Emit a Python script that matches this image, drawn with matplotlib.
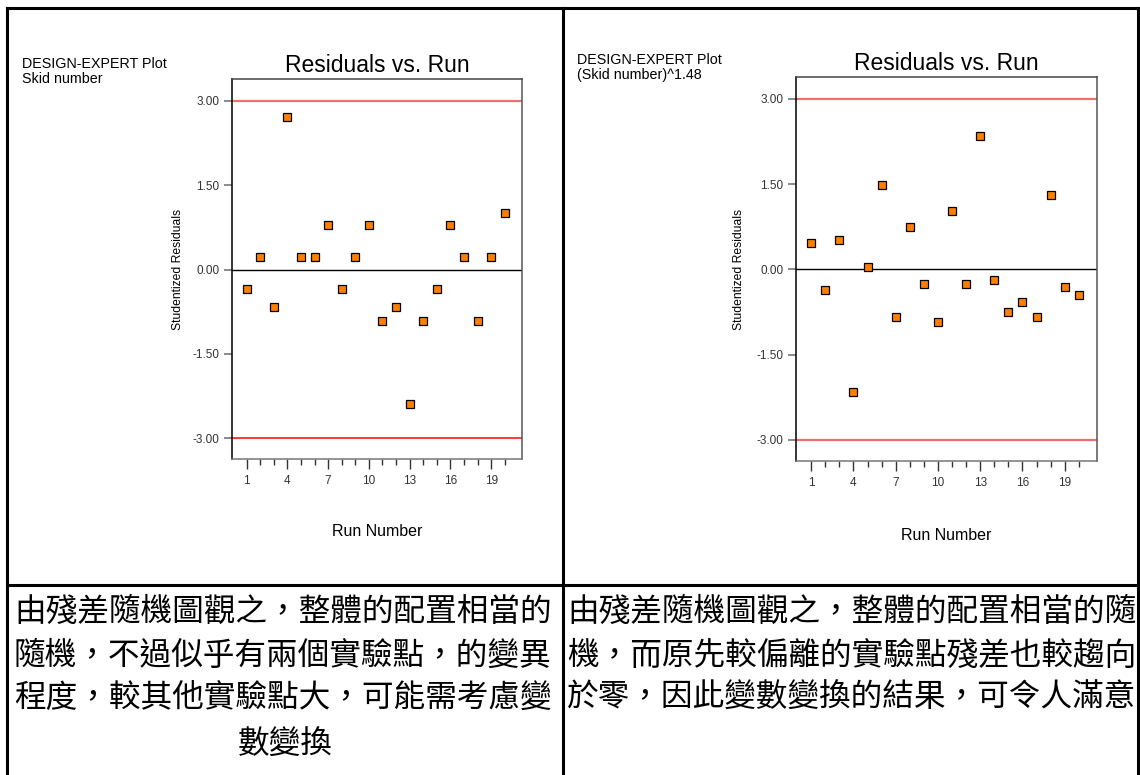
import matplotlib
matplotlib.use("Agg")
import matplotlib.pyplot as plt
from matplotlib.lines import Line2D
from matplotlib.ticker import FixedLocator, FormatStrFormatter

# residual data read from the two Design-Expert runs
runs = [1, 2, 3, 4, 5, 6, 7, 8, 9, 10, 11, 12, 13, 14, 15, 16, 17, 18, 19, 20]
skid_resid = [-0.34, 0.22, -0.67, 2.71, 0.22, 0.22, 0.79, -0.34, 0.22, 0.79,
              -0.91, -0.67, -2.39, -0.91, -0.34, 0.79, 0.22, -0.91, 0.22, 1.01]
trans_resid = [0.46, -0.37, 0.52, -2.15, 0.05, 1.48, -0.84, 0.75, -0.25, -0.93,
               1.02, -0.25, 2.34, -0.19, -0.75, -0.58, -0.84, 1.31, -0.31, -0.45]
limits = [3.0, -3.0]
ytick_vals = [3.0, 1.5, 0.0, -1.5, -3.0]
xtick_major = [1, 4, 7, 10, 13, 16, 19]
responses = ["Skid number", "(Skid number)^1.48"]

notes_left = ["由殘差隨機圖觀之，整體的配置相當的",
              "隨機，不過似乎有兩個實驗點，的變異",
              "程度，較其他實驗點大，可能需考慮變",
              "數變換"]
notes_right = ["由殘差隨機圖觀之，整體的配置相當的隨",
               "機，而原先較偏離的實驗點殘差也較趨向",
               "於零，因此變數變換的結果，可令人滿意"]

W, H = 1140, 775
fig = plt.figure(figsize=(W / 100, H / 100), dpi=100)
fig.patch.set_facecolor("white")

sans = ["Liberation Sans", "DejaVu Sans"]
cjk = ["Noto Sans CJK TC", "DejaVu Sans"]


def px(x, y):
    # pixel position (from top-left) -> figure fraction
    return x / W, 1 - y / H


def residual_panel(rect, resid, top_color, bot_color, bot_lw):
    ax = fig.add_axes(rect)
    ax.plot(runs, resid, ls="none", marker="s", ms=6, mfc="#ff8000",
            mec="black", mew=0.9, zorder=5)
    ax.axhline(limits[0], color=top_color, lw=1.6, zorder=2)
    ax.axhline(limits[1], color=bot_color, lw=bot_lw, zorder=2)
    ax.axhline(0, color="black", lw=1, zorder=2)
    ax.set_xlim(-0.1, 21.27)
    ax.set_ylim(-3.375, 3.385)

    ax.yaxis.set_major_locator(FixedLocator(ytick_vals))
    ax.yaxis.set_major_formatter(FormatStrFormatter("%.2f"))
    ax.xaxis.set_major_locator(FixedLocator(xtick_major))
    ax.xaxis.set_minor_locator(FixedLocator(runs))
    ax.tick_params(axis="y", direction="out", length=6, width=1.2,
                   color="#777777", labelsize=8.5, labelcolor="#333333", pad=3)
    ax.tick_params(axis="x", which="major", direction="out", length=7.5,
                   width=1, color="#333333", labelsize=8.5,
                   labelcolor="#333333", pad=4)
    ax.tick_params(axis="x", which="minor", direction="out", length=4,
                   width=1, color="#333333")
    for lab in ax.get_xticklabels() + ax.get_yticklabels():
        lab.set_family(sans)

    ax.spines["left"].set_color("black")
    ax.spines["top"].set_color("#444444")
    ax.spines["right"].set_color("#555555")
    ax.spines["bottom"].set_color("#777777")
    for s in ax.spines.values():
        s.set_linewidth(1.1)

    ax.set_title("Residuals vs. Run", family=sans, fontsize=16.5, pad=5)
    ax.set_xlabel("Run Number", family=sans, fontsize=11.5)
    ax.set_ylabel("Studentized Residuals", family=sans, fontsize=8.7)
    ax.xaxis.label.set_va("center")
    ax.yaxis.label.set_va("center")
    return ax


# left panel: raw response
axl = residual_panel([231.7 / W, 1 - 459.3 / H, 290.3 / W, 380 / H],
                     skid_resid, "#f07070", "red", 1.1)
axl.xaxis.set_label_coords(0.5, -0.191)
axl.yaxis.set_label_coords(-0.185, 0.5)

# right panel: transformed response
axr = residual_panel([795.7 / W, 1 - 461.3 / H, 301 / W, 384.3 / H],
                     trans_resid, "#f07070", "#f07070", 1.6)
axr.xaxis.set_label_coords(0.5, -0.194)
axr.yaxis.set_label_coords(-0.188, 0.5)

# Design-Expert header text
for (x0, y1, y2), resp in zip([(21.7, 67.7, 83.3), (576.7, 64.3, 79.5)], responses):
    fig.text(*px(x0, y1), "DESIGN-EXPERT Plot", family=sans, fontsize=10.3,
             va="baseline", ha="left")
    fig.text(*px(x0, y2), resp, family=sans, fontsize=10.3,
             va="baseline", ha="left")

# table borders
lines = [
    [(7, 7), (8, 775)],
    [(563, 563), (8, 775)],
    [(1138, 1138), (8, 775)],
    [(7, 1138), (8, 8)],
    [(7, 1138), (585, 585)],
]
for xs, ys in lines:
    fig.add_artist(Line2D([x / W for x in xs], [1 - y / H for y in ys],
                          color="black", lw=2.2, solid_capstyle="projecting"))

# notes under each chart
row_y = [612, 656, 698, 745]
for i, line in enumerate(notes_left):
    if i < 3:
        fig.text(*px(14, row_y[i]), line, family=cjk, fontsize=22.8,
                 va="center", ha="left")
    else:
        fig.text(*px(285, row_y[i]), line, family=cjk, fontsize=22.8,
                 va="center", ha="center")
for i, line in enumerate(notes_right):
    fig.text(*px(567, row_y[i]), line, family=cjk, fontsize=22.8,
             va="center", ha="left")

fig.savefig("out.png", dpi=100, facecolor="white")
